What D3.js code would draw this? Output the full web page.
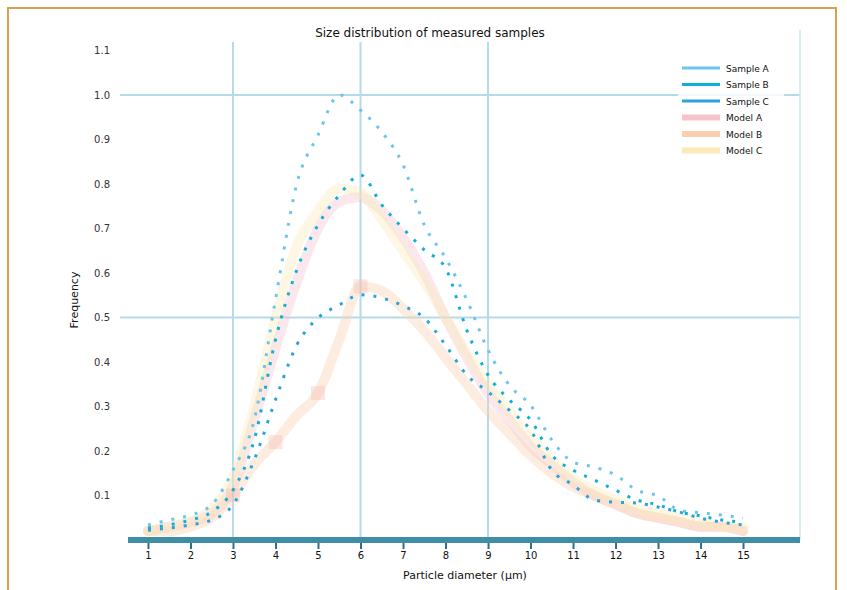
<!DOCTYPE html>
<html>
<head>
<meta charset="utf-8">
<script src="https://cdn.jsdelivr.net/npm/d3@7"></script>
<style>
  body { margin: 0; background: #fff; }
  text { font-family: "DejaVu Sans", sans-serif; }
</style>
</head>
<body>
<svg id="chart" width="847" height="590"></svg>
<script>
// values (x in units, y as share)
const xValues = [1, 1.5, 2, 2.5, 3, 3.5, 4, 4.5, 5, 5.5, 6, 6.5, 7, 7.5, 8, 8.5, 9, 9.5, 10, 10.5, 11, 11.5, 12, 12.5, 13, 13.5, 14, 14.5, 15];
const sampleA = [0.034, 0.045, 0.056, 0.079, 0.157, 0.27, 0.54, 0.8, 0.91, 1.0, 0.966, 0.917, 0.843, 0.708, 0.634, 0.54, 0.427, 0.348, 0.303, 0.225, 0.175, 0.164, 0.146, 0.112, 0.099, 0.067, 0.061, 0.056, 0.049];
const sampleB = [0.027, 0.034, 0.045, 0.063, 0.112, 0.225, 0.45, 0.607, 0.708, 0.775, 0.82, 0.753, 0.7, 0.652, 0.611, 0.472, 0.371, 0.315, 0.27, 0.191, 0.157, 0.135, 0.112, 0.09, 0.079, 0.063, 0.054, 0.045, 0.04];
const sampleC = [0.022, 0.027, 0.034, 0.045, 0.079, 0.18, 0.315, 0.438, 0.499, 0.528, 0.551, 0.544, 0.526, 0.499, 0.438, 0.371, 0.333, 0.292, 0.247, 0.157, 0.124, 0.09, 0.085, 0.083, 0.074, 0.063, 0.049, 0.04, 0.034];
const modelA = [0.02, 0.03, 0.04, 0.06, 0.12, 0.27, 0.43, 0.58, 0.7, 0.76, 0.77, 0.74, 0.68, 0.6, 0.5, 0.41, 0.33, 0.27, 0.21, 0.17, 0.13, 0.1, 0.08, 0.06, 0.05, 0.04, 0.03, 0.03, 0.02];
const modelB = [0.02, 0.02, 0.03, 0.05, 0.1, 0.17, 0.22, 0.28, 0.33, 0.45, 0.57, 0.56, 0.52, 0.47, 0.41, 0.35, 0.29, 0.24, 0.19, 0.15, 0.12, 0.1, 0.08, 0.06, 0.05, 0.04, 0.03, 0.03, 0.02];
const modelC = [0.02, 0.03, 0.04, 0.07, 0.14, 0.3, 0.5, 0.66, 0.74, 0.79, 0.78, 0.72, 0.65, 0.58, 0.5, 0.42, 0.35, 0.29, 0.23, 0.18, 0.14, 0.11, 0.09, 0.07, 0.06, 0.05, 0.04, 0.03, 0.03];

const seriesNames = ["Sample A", "Sample B", "Sample C", "Model A", "Model B", "Model C"];

const xTicks = d3.range(1, 16);
const yTicks = d3.range(0.1, 1.15, 0.1);
const xGrid = [3, 6, 9];
const yGrid = [0.5, 1.0];

const titleText = "Size distribution of measured samples";
const xLabel = "Particle diameter (µm)";
const yLabel = "Frequency";

const width = 847;
const height = 590;
const margin = { top: 30, right: 47, bottom: 50, left: 128 };

const svg = d3.select("#chart");

// figure frame
svg.append("rect")
  .attr("x", 8).attr("y", 8)
  .attr("width", 828).attr("height", 600)
  .attr("fill", "none")
  .attr("stroke", "#d8a050")
  .attr("stroke-width", 2);

const x = d3.scaleLinear()
  .domain([0.53, 16.34])
  .range([margin.left, width - margin.right]);

const y = d3.scaleLinear()
  .domain([0, 1.146])
  .range([height - margin.bottom, margin.top]);

// grid
svg.append("g")
  .selectAll("line")
  .data(xGrid)
  .join("line")
  .attr("x1", (d) => x(d)).attr("x2", (d) => x(d))
  .attr("y1", margin.top + 12).attr("y2", height - margin.bottom)
  .attr("stroke", "#b5dbea")
  .attr("stroke-width", 2);

svg.append("g")
  .selectAll("line")
  .data(yGrid)
  .join("line")
  .attr("x1", margin.left - 8).attr("x2", width - margin.right)
  .attr("y1", (d) => y(d)).attr("y2", (d) => y(d))
  .attr("stroke", "#b5dbea")
  .attr("stroke-width", 2);

// right edge
svg.append("line")
  .attr("x1", width - margin.right).attr("x2", width - margin.right)
  .attr("y1", margin.top).attr("y2", height - margin.bottom)
  .attr("stroke", "#cfe7f1")
  .attr("stroke-width", 1.5);

const line = d3.line()
  .x((d, i) => x(xValues[i]))
  .y((d) => y(d))
  .curve(d3.curveMonotoneX);

// pale model lines
const modelColors = ["#f6c3cc", "#f9cfae", "#fbeab8"];
[modelA, modelB, modelC].forEach((vals, k) => {
  svg.append("path")
    .datum(vals)
    .attr("fill", "none")
    .attr("stroke", modelColors[k])
    .attr("stroke-width", 10)
    .attr("stroke-opacity", 0.38)
    .attr("stroke-linecap", "round")
    .attr("d", line);
});

// pale squares on model B
const squareIdx = [4, 6, 8, 10];
svg.append("g")
  .selectAll("rect")
  .data(squareIdx)
  .join("rect")
  .attr("x", (i) => x(xValues[i]) - 7)
  .attr("y", (i) => y(modelB[i]) - 7)
  .attr("width", 14).attr("height", 14)
  .attr("fill", "#f4b6b0")
  .attr("opacity", 0.35);

// dotted sample lines
const sampleColors = ["#6cc5ec", "#10b0d6", "#2aa3dc"];
[sampleA, sampleB, sampleC].forEach((vals, k) => {
  svg.append("path")
    .datum(vals)
    .attr("fill", "none")
    .attr("stroke", sampleColors[k])
    .attr("stroke-width", 3)
    .attr("stroke-dasharray", "3,9")
    .attr("d", line);
});

// bottom axis
svg.append("line")
  .attr("x1", margin.left).attr("x2", width - margin.right)
  .attr("y1", height - margin.bottom).attr("y2", height - margin.bottom)
  .attr("stroke", "#3f8ea6")
  .attr("stroke-width", 6);

const xAxis = (g) =>
  g
    .attr("transform", `translate(0,${height - margin.bottom + 3})`)
    .call(d3.axisBottom(x).tickValues(xTicks).tickSize(6).tickPadding(3).tickFormat(d3.format("d")))
    .call((g) => g.select(".domain").remove())
    .call((g) => g.selectAll(".tick line").attr("stroke", "#2f6f84").attr("stroke-width", 2))
    .call((g) => g.selectAll(".tick text").style("font-size", "10px").attr("fill", "#111"));

const yAxis = (g) =>
  g
    .attr("transform", `translate(${margin.left - 14},0)`)
    .call(d3.axisLeft(y).tickValues(yTicks).tickSize(0).tickPadding(4).tickFormat(d3.format(".1f")))
    .call((g) => g.select(".domain").remove())
    .call((g) => g.selectAll(".tick text").style("font-size", "10px").attr("fill", "#333"));

svg.append("g").call(xAxis);
svg.append("g").call(yAxis);

// titles
svg.append("text")
  .attr("x", 430).attr("y", 37)
  .attr("text-anchor", "middle")
  .style("font-size", "12px")
  .attr("fill", "#111")
  .text(titleText);

svg.append("text")
  .attr("x", 465).attr("y", 579)
  .attr("text-anchor", "middle")
  .style("font-size", "11px")
  .attr("fill", "#111")
  .text(xLabel);

svg.append("text")
  .attr("transform", "translate(78,300) rotate(-90)")
  .attr("text-anchor", "middle")
  .style("font-size", "11px")
  .attr("fill", "#111")
  .text(yLabel);

// legend
const legendColors = sampleColors.concat(modelColors);
const legend = svg.append("g").attr("transform", "translate(682,62)");
legend.append("rect")
  .attr("x", -4).attr("y", -4)
  .attr("width", 106).attr("height", 100)
  .attr("fill", "#fff")
  .attr("fill-opacity", 0.8);

const item = legend.selectAll("g")
  .data(seriesNames)
  .join("g")
  .attr("transform", (d, i) => `translate(0,${6 + i * 16.5})`);

item.append("line")
  .attr("x1", 0).attr("x2", 38)
  .attr("stroke", (d, i) => legendColors[i])
  .attr("stroke-width", (d, i) => (i < 3 ? 3 : 6));

item.append("text")
  .attr("x", 44).attr("y", 3.5)
  .style("font-size", "9px")
  .attr("fill", "#111")
  .text((d) => d);
</script>
</body>
</html>
